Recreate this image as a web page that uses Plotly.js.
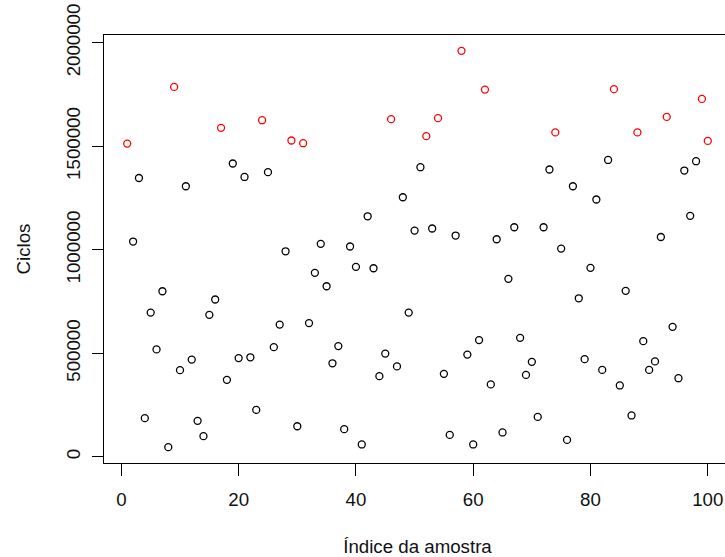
<!DOCTYPE html>
<html>
<head>
<meta charset="utf-8">
<script src="https://cdn.plot.ly/plotly-3.0.1.min.js"></script>
<style>
html,body{margin:0;padding:0;overflow:hidden;background:#fff;width:725px;height:557px;}
#chart{width:732px;height:557px;}
</style>
</head>
<body>
<div id="chart"></div>
<script>
// Sample index and fatigue cycles
const indices = Array.from({length: 100}, (_, i) => i + 1);
const ciclos = [
  1513000, 1040000, 1347000, 187000, 697000, 519000, 800000, 47000, 1787000, 419000,
  1307000, 470000, 174000, 100000, 686000, 760000, 1589000, 372000, 1417000, 477000,
  1352000, 481000, 227000, 1626000, 1375000, 530000, 639000, 993000, 1528000, 148000,
  1515000, 646000, 889000, 1029000, 824000, 452000, 535000, 134000, 1016000, 918000,
  60000, 1162000, 911000, 390000, 499000, 1631000, 437000, 1254000, 697000, 1093000,
  1399000, 1549000, 1103000, 1636000, 401000, 106000, 1069000, 1961000, 494000, 60000,
  564000, 1774000, 350000, 1051000, 118000, 860000, 1109000, 575000, 396000, 459000,
  193000, 1109000, 1388000, 1567000, 1006000, 82000, 1307000, 766000, 472000, 913000,
  1243000, 420000, 1434000, 1776000, 345000, 802000, 200000, 1567000, 559000, 420000,
  461000, 1062000, 1642000, 628000, 380000, 1383000, 1164000, 1428000, 1729000, 1526000
];
const limiar = 1500000;
const xTicks = [0, 20, 40, 60, 80, 100];
const xTickLabels = ["0", "20", "40", "60", "80", "100"];
const yTicks = [0, 500000, 1000000, 1500000, 2000000];
const yTickLabels = ["0", "500000", "1000000", "1500000", "2000000"];

const cores = ciclos.map(v => v > limiar ? '#ff0000' : '#000000');

// R-style 4% range extension
function rRange(arr) {
  const mn = Math.min(...arr), mx = Math.max(...arr), r = mx - mn;
  return [mn - 0.04 * r, mx + 0.04 * r];
}

const fontFam = '"Liberation Sans", Arial, sans-serif';
const fs = 18.7;

const trace = {
  x: indices,
  y: ciclos,
  type: 'scatter',
  mode: 'markers',
  marker: {symbol: 'circle-open', size: 7, color: cores, line: {width: 1.3}},
  hoverinfo: 'x+y'
};

const layout = {
  width: 732,
  height: 557,
  margin: {l: 104, r: 1, t: 35, b: 94, pad: 0},
  paper_bgcolor: '#ffffff',
  plot_bgcolor: '#ffffff',
  showlegend: false,
  font: {family: fontFam, size: fs, color: '#111111'},
  xaxis: {
    range: rRange(indices),
    tickmode: 'array', tickvals: xTicks, ticktext: xTickLabels,
    ticks: 'outside', ticklen: 12, tickwidth: 1, tickcolor: '#000',
    showline: true, mirror: true, linecolor: '#000', linewidth: 1,
    showgrid: false, zeroline: false,
    tickfont: {family: fontFam, size: fs, color: '#111'},
    ticklabelstandoff: 8,
    title: {text: 'Índice da amostra', font: {family: fontFam, size: fs, color: '#111'}, standoff: 30}
  },
  yaxis: {
    range: rRange(ciclos),
    tickmode: 'array', tickvals: yTicks, ticktext: yTickLabels,
    ticks: 'outside', ticklen: 11, tickwidth: 1, tickcolor: '#000',
    tickangle: -90,
    showline: true, mirror: true, linecolor: '#000', linewidth: 1,
    showgrid: false, zeroline: false,
    tickfont: {family: fontFam, size: fs, color: '#111'},
    ticklabelstandoff: 5,
    title: {text: 'Ciclos', font: {family: fontFam, size: fs, color: '#111'}, standoff: 26}
  }
};

Plotly.newPlot('chart', [trace], layout, {displayModeBar: false, staticPlot: true});
</script>
</body>
</html>
